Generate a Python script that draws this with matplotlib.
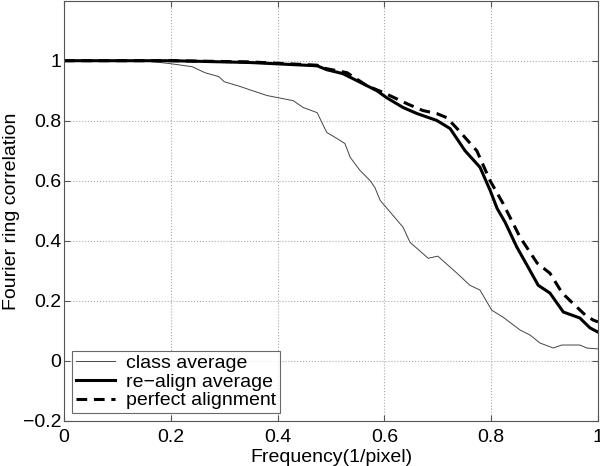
import matplotlib
matplotlib.use("Agg")
import matplotlib.pyplot as plt

plt.rcParams['font.family'] = ['Liberation Sans', 'DejaVu Sans']

# class average (thin line)
class_x = [0, 0.10, 0.15, 0.20, 0.24, 0.264, 0.29, 0.30, 0.33, 0.348, 0.38, 0.429,
           0.448, 0.474, 0.483, 0.492, 0.511, 0.526, 0.536, 0.554, 0.573, 0.582,
           0.592, 0.635, 0.648, 0.682, 0.70, 0.736, 0.760, 0.779, 0.801, 0.822,
           0.854, 0.873, 0.891, 0.916, 0.932, 0.966, 0.979, 1.0]
class_y = [1, 1, 1, 0.99, 0.98, 0.96, 0.947, 0.93, 0.914, 0.903, 0.884, 0.867,
           0.844, 0.827, 0.794, 0.761, 0.741, 0.724, 0.678, 0.635, 0.601, 0.578,
           0.535, 0.445, 0.395, 0.342, 0.349, 0.292, 0.252, 0.236, 0.169, 0.146,
           0.103, 0.086, 0.06, 0.043, 0.053, 0.053, 0.043, 0.04]

# re-align average (thick line)
realign_x = [0, 0.20, 0.348, 0.474, 0.492, 0.522, 0.548, 0.586, 0.604, 0.635,
             0.661, 0.698, 0.723, 0.751, 0.779, 0.798, 0.811, 0.826, 0.848, 0.867,
             0.888, 0.91, 0.935, 0.966, 0.985, 1.0]
realign_y = [1, 1, 0.994, 0.983, 0.97, 0.957, 0.934, 0.90, 0.877, 0.844,
             0.824, 0.801, 0.774, 0.70, 0.645, 0.568, 0.508, 0.462, 0.379, 0.319,
             0.252, 0.226, 0.163, 0.143, 0.11, 0.096]

# perfect alignment (dashed line)
perfect_x = [0, 0.20, 0.348, 0.474, 0.49, 0.53, 0.567, 0.598, 0.642, 0.672, 0.698,
             0.717, 0.736, 0.773, 0.798, 0.822, 0.854, 0.886, 0.91, 0.933, 0.96,
             0.976, 0.991, 1.0]
perfect_y = [1, 1, 0.996, 0.985, 0.974, 0.96, 0.917, 0.894, 0.857, 0.834, 0.824,
             0.81, 0.774, 0.70, 0.60, 0.525, 0.412, 0.326, 0.292, 0.226, 0.18,
             0.153, 0.136, 0.13]

fig = plt.figure(figsize=(6, 4.66), dpi=100)
ax = fig.add_axes([0.1067, 0.0966, 0.89, 0.902])

ax.plot(class_x, class_y, color='#444444', lw=0.7, label='class average')
ax.plot(realign_x, realign_y, color='black', lw=2.2, label='re\u2212align average')
ax.plot(perfect_x, perfect_y, color='black', lw=2.2, ls=(0, (3.5, 2.2)), label='perfect alignment')

ax.set_xlim(0, 1)
ax.set_ylim(-0.2, 1.2)
ax.set_xticks([0, 0.2, 0.4, 0.6, 0.8, 1])
ax.set_xticklabels(['0', '0.2', '0.4', '0.6', '0.8', '1'])
ax.set_yticks([-0.2, 0, 0.2, 0.4, 0.6, 0.8, 1])
ax.set_yticklabels(['\u22120.2', '0', '0.2', '0.4', '0.6', '0.8', '1'])
ax.tick_params(direction='in', top=True, right=True, labelsize=14, length=4,
               color='#555555')
ax.tick_params(axis='y', pad=2)
ax.tick_params(axis='x', pad=6)
ax.grid(True, ls=':', color='#aaaaaa', lw=0.8)
for s in ax.spines.values():
    s.set_color('#555555')

ax.set_xlabel('Frequency(1/pixel)', fontsize=14, labelpad=2)
ax.set_ylabel('Fourier ring correlation', fontsize=14, labelpad=2)

leg = ax.legend(loc='lower left', fontsize=14, frameon=True, fancybox=False,
                handlelength=2.0, borderaxespad=0.4, labelspacing=0.05,
                borderpad=0.2, handletextpad=0.6)
leg.get_frame().set_edgecolor('#444444')
leg.get_frame().set_linewidth(0.8)

fig.savefig('out.png', dpi=100)
